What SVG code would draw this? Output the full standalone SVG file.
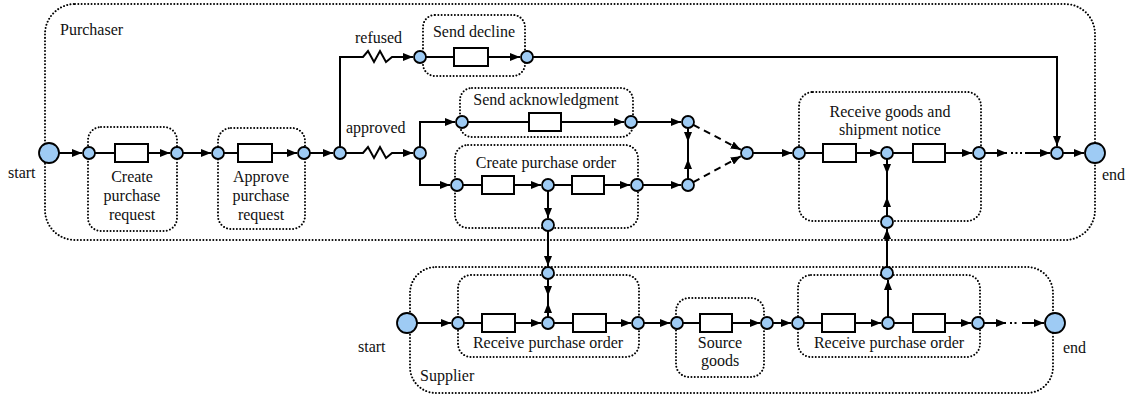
<svg xmlns="http://www.w3.org/2000/svg" width="1141" height="403" viewBox="0 0 1141 403">
  <style>
    .pool, .sub { fill: none; stroke: #000; stroke-width: 2; stroke-dasharray: 0.01 3.3; stroke-linecap: round; }
    .place { fill: #9ecbf4; stroke: #000; stroke-width: 1.8; }
    .task { fill: #fff; stroke: #000; stroke-width: 2; }
    .edge { fill: none; stroke: #000; stroke-width: 2; }
    .dashed { stroke-dasharray: 7 5; }
    .dots { fill: none; stroke: #000; stroke-width: 2; stroke-dasharray: 2 2.5; }
    text { font-family: "Liberation Serif", "Times New Roman", serif; font-size: 16px; fill: #111; }
    .c { text-anchor: middle; }
  </style>
  <defs>
    <marker id="arrow" markerUnits="userSpaceOnUse" markerWidth="10" markerHeight="8" refX="10" refY="4" orient="auto">
      <path d="M0,0 L10,4 L0,8 Z" fill="#000" stroke="none"/>
    </marker>
  </defs>

  <!-- swimlanes -->
  <g id="pool-purchaser">
    <rect class="pool" x="45" y="4" width="1050" height="236" rx="30"/>
    <text x="60" y="35">Purchaser</text>
  </g>
  <g id="pool-supplier">
    <rect class="pool" x="410" y="267" width="643" height="126" rx="26"/>
    <text x="420" y="381">Supplier</text>
  </g>

  <!-- sub-process frames -->
  <g id="sub-create-request">
    <rect class="sub" x="88" y="127" width="89" height="104" rx="13"/>
    <text class="c" x="132" y="182">Create</text>
    <text class="c" x="132" y="201">purchase</text>
    <text class="c" x="132" y="220">request</text>
  </g>
  <g id="sub-approve-request">
    <rect class="sub" x="218" y="128" width="87" height="101" rx="13"/>
    <text class="c" x="261" y="182">Approve</text>
    <text class="c" x="261" y="201">purchase</text>
    <text class="c" x="261" y="220">request</text>
  </g>
  <g id="sub-send-decline">
    <rect class="sub" x="423" y="15" width="102" height="61" rx="12"/>
    <text class="c" x="474" y="37">Send decline</text>
  </g>
  <g id="sub-send-ack">
    <rect class="sub" x="460" y="88" width="173" height="49" rx="12"/>
    <text class="c" x="546" y="105">Send acknowledgment</text>
  </g>
  <g id="sub-create-order">
    <rect class="sub" x="455" y="145" width="183" height="83" rx="13"/>
    <text class="c" x="546" y="168">Create purchase order</text>
  </g>
  <g id="sub-receive-goods">
    <rect class="sub" x="799" y="92" width="182" height="129" rx="14"/>
    <text class="c" x="890" y="117">Receive goods and</text>
    <text class="c" x="890" y="135">shipment notice</text>
  </g>
  <g id="sub-receive-order-1">
    <rect class="sub" x="458" y="275" width="181" height="82" rx="13"/>
    <text class="c" x="548" y="348">Receive purchase order</text>
  </g>
  <g id="sub-source-goods">
    <rect class="sub" x="676" y="298" width="88" height="79" rx="13"/>
    <text class="c" x="720" y="348">Source</text>
    <text class="c" x="720" y="366">goods</text>
  </g>
  <g id="sub-receive-order-2">
    <rect class="sub" x="798" y="275" width="182" height="82" rx="13"/>
    <text class="c" x="889" y="348">Receive purchase order</text>
  </g>

  <!-- connectors -->
  <g id="connectors">
    <!-- purchaser main flow -->
    <path class="edge" d="M59,153 H82" marker-end="url(#arrow)"/>
    <path class="edge" d="M95,153 H115"/>
    <path class="edge" d="M148,153 H170" marker-end="url(#arrow)"/>
    <path class="edge" d="M183,153 H211" marker-end="url(#arrow)"/>
    <path class="edge" d="M224,153 H238"/>
    <path class="edge" d="M272,153 H297" marker-end="url(#arrow)"/>
    <path class="edge" d="M310,153 H333" marker-end="url(#arrow)"/>
    <!-- refused branch -->
    <path class="edge" d="M340,153 V57 H363 L368,51 L374,62 L380,51 L386,62 L392,57 H413" marker-end="url(#arrow)"/>
    <path class="edge" d="M426,57 H454"/>
    <path class="edge" d="M488,57 H520" marker-end="url(#arrow)"/>
    <path class="edge" d="M533,57 H1057 V146" marker-end="url(#arrow)"/>
    <!-- approved branch -->
    <path class="edge" d="M346,153 H363 L368,147 L374,158 L380,147 L386,158 L392,153 H413" marker-end="url(#arrow)"/>
    <path class="edge" d="M420,153 V122 H455" marker-end="url(#arrow)"/>
    <path class="edge" d="M420,153 V185 H450" marker-end="url(#arrow)"/>
    <path class="edge" d="M468,122 H529"/>
    <path class="edge" d="M561,122 H624" marker-end="url(#arrow)"/>
    <path class="edge" d="M637,122 H681" marker-end="url(#arrow)"/>
    <path class="edge" d="M463,185 H482"/>
    <path class="edge" d="M514,185 H541" marker-end="url(#arrow)"/>
    <path class="edge" d="M554,185 H572"/>
    <path class="edge" d="M604,185 H630" marker-end="url(#arrow)"/>
    <path class="edge" d="M643,185 H681" marker-end="url(#arrow)"/>
    <!-- synchronisation between the two branches -->
    <path class="edge" d="M688,128 V179"/>
    <path class="edge" d="M688,132 V142" marker-end="url(#arrow)"/>
    <path class="edge" d="M688,170 V159" marker-end="url(#arrow)"/>
    <path class="edge dashed" d="M693.3,124.8 L740.8,149.7" marker-end="url(#arrow)"/>
    <path class="edge dashed" d="M693.3,182.2 L740.8,156.3" marker-end="url(#arrow)"/>
    <path class="edge" d="M753,153 H792" marker-end="url(#arrow)"/>
    <!-- receive goods -->
    <path class="edge" d="M805,153 H823"/>
    <path class="edge" d="M856,153 H880" marker-end="url(#arrow)"/>
    <path class="edge" d="M893,153 H913"/>
    <path class="edge" d="M945,153 H972" marker-end="url(#arrow)"/>
    <path class="edge" d="M985,153 H1007" marker-end="url(#arrow)"/>
    <path class="dots" d="M1011,153 H1022"/>
    <path class="edge" d="M1025,153 H1050" marker-end="url(#arrow)"/>
    <path class="edge" d="M1063,153 H1084" marker-end="url(#arrow)"/>
    <!-- order sent to supplier -->
    <path class="edge" d="M548,191 V218" marker-end="url(#arrow)"/>
    <path class="edge" d="M548,231 V266" marker-end="url(#arrow)"/>
    <path class="edge" d="M548,279 V317"/>
    <path class="edge" d="M548,286 V296" marker-end="url(#arrow)"/>
    <path class="edge" d="M548,314 V303" marker-end="url(#arrow)"/>
    <!-- shipment notice back to purchaser -->
    <path class="edge" d="M888,317 V280" marker-end="url(#arrow)"/>
    <path class="edge" d="M887,267 V229" marker-end="url(#arrow)"/>
    <path class="edge" d="M887,159 V216"/>
    <path class="edge" d="M887,163 V174" marker-end="url(#arrow)"/>
    <path class="edge" d="M887,208 V197" marker-end="url(#arrow)"/>
    <!-- supplier flow -->
    <path class="edge" d="M417,323 H451" marker-end="url(#arrow)"/>
    <path class="edge" d="M464,323 H482"/>
    <path class="edge" d="M515,323 H541" marker-end="url(#arrow)"/>
    <path class="edge" d="M554,323 H573"/>
    <path class="edge" d="M606,323 H631" marker-end="url(#arrow)"/>
    <path class="edge" d="M644,323 H670" marker-end="url(#arrow)"/>
    <path class="edge" d="M683,323 H700"/>
    <path class="edge" d="M732,323 H760" marker-end="url(#arrow)"/>
    <path class="edge" d="M773,323 H791" marker-end="url(#arrow)"/>
    <path class="edge" d="M804,323 H822"/>
    <path class="edge" d="M855,323 H881" marker-end="url(#arrow)"/>
    <path class="edge" d="M894,323 H913"/>
    <path class="edge" d="M945,323 H971" marker-end="url(#arrow)"/>
    <path class="edge" d="M984,323 H1006" marker-end="url(#arrow)"/>
    <path class="dots" d="M1010,323 H1019"/>
    <path class="edge" d="M1022,323 H1044" marker-end="url(#arrow)"/>
  </g>

  <!-- tasks -->
  <g id="tasks">
    <rect class="task" x="115" y="144" width="33" height="18"/>
    <rect class="task" x="238" y="144" width="34" height="18"/>
    <rect class="task" x="454" y="48" width="34" height="18"/>
    <rect class="task" x="529" y="113" width="32" height="18"/>
    <rect class="task" x="482" y="176" width="32" height="18"/>
    <rect class="task" x="572" y="176" width="32" height="18"/>
    <rect class="task" x="823" y="144" width="33" height="18"/>
    <rect class="task" x="913" y="144" width="32" height="18"/>
    <rect class="task" x="482" y="314" width="33" height="18"/>
    <rect class="task" x="573" y="314" width="33" height="18"/>
    <rect class="task" x="700" y="314" width="32" height="18"/>
    <rect class="task" x="822" y="314" width="33" height="18"/>
    <rect class="task" x="913" y="314" width="32" height="18"/>
  </g>

  <!-- purchaser places -->
  <g id="p-start"><circle class="place" cx="49" cy="153" r="10"/><text x="8" y="178">start</text></g>
  <g id="p1"><circle class="place" cx="89" cy="153" r="6"/></g>
  <g id="p2"><circle class="place" cx="177" cy="153" r="6"/></g>
  <g id="p3"><circle class="place" cx="218" cy="153" r="6"/></g>
  <g id="p4"><circle class="place" cx="304" cy="153" r="6"/></g>
  <g id="p5"><circle class="place" cx="340" cy="153" r="6"/><text x="346" y="133">approved</text></g>
  <g id="p6"><circle class="place" cx="420" cy="57" r="6"/><text x="355" y="43">refused</text></g>
  <g id="p7"><circle class="place" cx="527" cy="57" r="6"/></g>
  <g id="p8"><circle class="place" cx="420" cy="153" r="6"/></g>
  <g id="p9"><circle class="place" cx="462" cy="122" r="6"/></g>
  <g id="p10"><circle class="place" cx="631" cy="122" r="6"/></g>
  <g id="p11"><circle class="place" cx="688" cy="122" r="6"/></g>
  <g id="p12"><circle class="place" cx="457" cy="185" r="6"/></g>
  <g id="p13"><circle class="place" cx="548" cy="185" r="6"/></g>
  <g id="p14"><circle class="place" cx="637" cy="185" r="6"/></g>
  <g id="p15"><circle class="place" cx="688" cy="185" r="6"/></g>
  <g id="p16"><circle class="place" cx="548" cy="225" r="6"/></g>
  <g id="p17"><circle class="place" cx="747" cy="153" r="6"/></g>
  <g id="p18"><circle class="place" cx="799" cy="153" r="6"/></g>
  <g id="p19"><circle class="place" cx="887" cy="153" r="6"/></g>
  <g id="p20"><circle class="place" cx="979" cy="153" r="6"/></g>
  <g id="p21"><circle class="place" cx="887" cy="222" r="6"/></g>
  <g id="p22"><circle class="place" cx="1057" cy="153" r="6"/></g>
  <g id="p-end"><circle class="place" cx="1095" cy="153" r="10"/><text x="1102" y="180">end</text></g>

  <!-- interface places -->
  <g id="i1"><circle class="place" cx="548" cy="273" r="6"/></g>
  <g id="i2"><circle class="place" cx="887" cy="273" r="6"/></g>

  <!-- supplier places -->
  <g id="s-start"><circle class="place" cx="407" cy="323" r="10"/><text x="358" y="352">start</text></g>
  <g id="s1"><circle class="place" cx="458" cy="323" r="6"/></g>
  <g id="s2"><circle class="place" cx="548" cy="323" r="6"/></g>
  <g id="s3"><circle class="place" cx="638" cy="323" r="6"/></g>
  <g id="s4"><circle class="place" cx="677" cy="323" r="6"/></g>
  <g id="s5"><circle class="place" cx="767" cy="323" r="6"/></g>
  <g id="s6"><circle class="place" cx="798" cy="323" r="6"/></g>
  <g id="s7"><circle class="place" cx="888" cy="323" r="6"/></g>
  <g id="s8"><circle class="place" cx="978" cy="323" r="6"/></g>
  <g id="s-end"><circle class="place" cx="1055" cy="323" r="10"/><text x="1063" y="353">end</text></g>
</svg>
